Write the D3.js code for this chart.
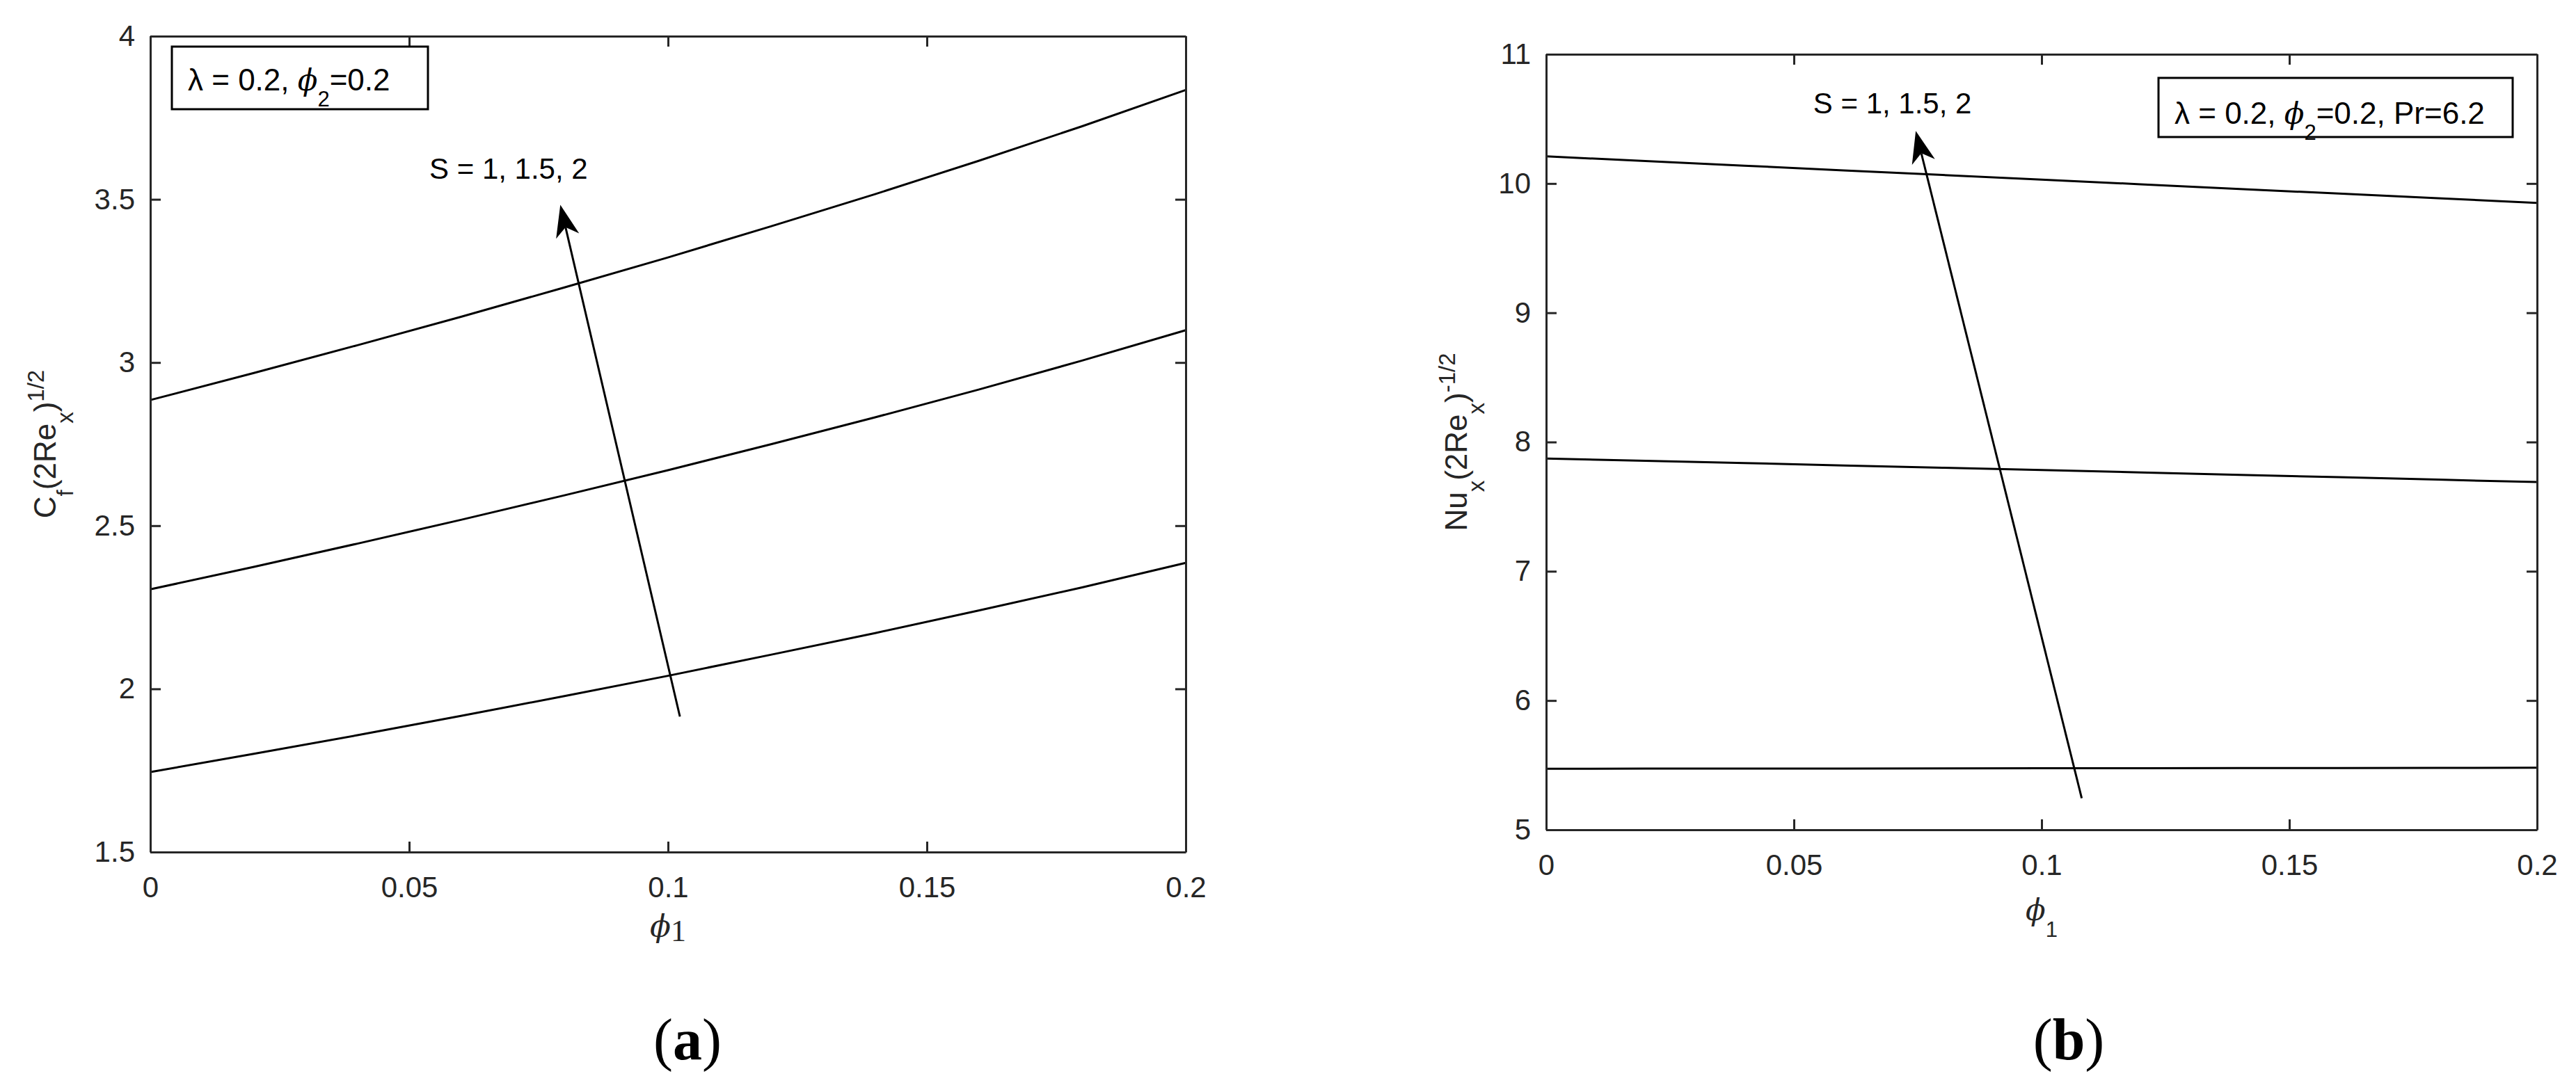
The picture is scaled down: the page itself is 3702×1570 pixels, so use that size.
<!DOCTYPE html>
<html>
<head>
<meta charset="utf-8">
<script src="https://cdn.jsdelivr.net/npm/d3@7"></script>
<style>
  body { margin: 0; background: #fff; }
  svg { display: block; }
</style>
</head>
<body>
<div id="chart"></div>
<script>
// phi_1 sample points (shared by both panels)
var phi1 = [0, 0.02, 0.04, 0.06, 0.08, 0.1, 0.12, 0.14, 0.16, 0.18, 0.2];

// panel (a): skin friction  Cf (2Re_x)^1/2
var cfS1  = [1.745, 1.801, 1.858, 1.917, 1.978, 2.040, 2.105, 2.171, 2.240, 2.311, 2.386];
var cfS15 = [2.305, 2.374, 2.445, 2.518, 2.593, 2.670, 2.750, 2.832, 2.917, 3.006, 3.099];
var cfS2  = [2.885, 2.968, 3.053, 3.140, 3.230, 3.322, 3.418, 3.516, 3.618, 3.724, 3.835];

// panel (b): Nusselt number  Nu_x (2Re_x)^-1/2
var nuS1  = [5.472, 5.473, 5.473, 5.474, 5.475, 5.476, 5.476, 5.477, 5.478, 5.479, 5.480];
var nuS15 = [7.872, 7.855, 7.837, 7.819, 7.801, 7.783, 7.765, 7.746, 7.728, 7.709, 7.690];
var nuS2  = [10.210, 10.174, 10.138, 10.102, 10.066, 10.030, 9.994, 9.958, 9.922, 9.886, 9.850];

// ticks
var xTicks = [0, 0.05, 0.1, 0.15, 0.2];
var xTickLabels = ["0", "0.05", "0.1", "0.15", "0.2"];
var cfTicks = [1.5, 2, 2.5, 3, 3.5, 4];
var cfTickLabels = ["1.5", "2", "2.5", "3", "3.5", "4"];
var nuTicks = [5, 6, 7, 8, 9, 10, 11];
var nuTickLabels = ["5", "6", "7", "8", "9", "10", "11"];

// arrows [tail, head] in data units, and the "S = ..." note position
var cfArrow = [[0.1023, 1.915], [0.0792, 3.483]];
var nuArrow = [[0.1081, 5.244], [0.0746, 10.407]];
var cfNote = [0.0539, 3.564];
var nuNote = [0.0539, 10.541];

var SANS = "'Liberation Sans', Arial, Helvetica, sans-serif";
var SERIF = "'Liberation Serif', 'Times New Roman', serif";
var GREEK = "'DejaVu Serif', serif";
var AXIS_COL = "#262626";

var svg = d3.select("#chart").append("svg")
	.attr("width", 3702)
	.attr("height", 1570);

svg.append("rect").attr("width", 3702).attr("height", 1570).attr("fill", "#fff");

var panels = [
	{
		left: 216, right: 1704, top: 52, bottom: 1225,
		yDomain: [1.5, 4], yTicks: cfTicks, yTickLabels: cfTickLabels,
		series: [cfS1, cfS15, cfS2],
		arrow: cfArrow, note: cfNote,
		legend: { side: "left", dx: 31, dy: 15, w: 368, h: 90, pad: 23, base: 63, extra: "" },
		ylabel: { x: 80, main: "C", sub: "f", sup: "1/2" },
		xlabelTex: true,
		tag: "a", tagX: 988
	},
	{
		left: 2222, right: 3646, top: 78, bottom: 1193,
		yDomain: [5, 11], yTicks: nuTicks, yTickLabels: nuTickLabels,
		series: [nuS1, nuS15, nuS2],
		arrow: nuArrow, note: nuNote,
		legend: { side: "right", dx: 35, dy: 34, w: 509, h: 85, pad: 23, base: 66, extra: ", Pr=6.2" },
		ylabel: { x: 2108, main: "Nu", sub: "x", sup: "-1/2" },
		xlabelTex: false,
		tag: "b", tagX: 2973
	}
];

panels.forEach(function (p) {
	var x = d3.scaleLinear().domain([0, 0.2]).range([p.left, p.right]);
	var y = d3.scaleLinear().domain(p.yDomain).range([p.bottom, p.top]);
	var g = svg.append("g");

	// curves
	var line = d3.line()
		.x(function (d, i) { return x(phi1[i]); })
		.y(function (d) { return y(d); });

	p.series.forEach(function (s) {
		g.append("path")
			.attr("d", line(s))
			.attr("fill", "none")
			.attr("stroke", "#000")
			.attr("stroke-width", 3);
	});

	// axes, matlab style: box on, ticks pointing in
	var ax = [
		{ a: d3.axisBottom(x).tickValues(xTicks).tickFormat(function (d, i) { return xTickLabels[i]; }).tickPadding(35), t: "translate(0," + p.bottom + ")" },
		{ a: d3.axisTop(x).tickValues(xTicks).tickFormat(""), t: "translate(0," + p.top + ")" },
		{ a: d3.axisLeft(y).tickValues(p.yTicks).tickFormat(function (d, i) { return p.yTickLabels[i]; }).tickPadding(22), t: "translate(" + p.left + ",0)" },
		{ a: d3.axisRight(y).tickValues(p.yTicks).tickFormat(""), t: "translate(" + p.right + ",0)" }
	];
	ax.forEach(function (o) {
		var axg = g.append("g")
			.attr("transform", o.t)
			.call(o.a.tickSizeInner(-15).tickSizeOuter(0));
		axg.select(".domain").attr("stroke", AXIS_COL).attr("stroke-width", 3);
		axg.selectAll(".tick line").attr("stroke", AXIS_COL).attr("stroke-width", 3);
		axg.selectAll(".tick text")
			.attr("fill", AXIS_COL)
			.attr("font-family", SANS)
			.attr("font-size", 42);
	});

	// legend box
	var L = p.legend;
	var bx = L.side == "left" ? p.left + L.dx : p.right - L.dx - L.w;
	var by = p.top + L.dy;
	g.append("rect")
		.attr("x", bx).attr("y", by)
		.attr("width", L.w).attr("height", L.h)
		.attr("fill", "#fff")
		.attr("stroke", "#000")
		.attr("stroke-width", 3);
	var lt = g.append("text")
		.attr("x", bx + L.pad).attr("y", by + L.base)
		.attr("font-family", SANS)
		.attr("font-size", 44)
		.attr("fill", "#000");
	lt.append("tspan").text("\u03bb = 0.2, ");
	lt.append("tspan").attr("font-family", GREEK).attr("font-style", "italic").attr("font-size", 42).text("\u03d5");
	lt.append("tspan").attr("font-size", 31).attr("dy", 23).text("2");
	lt.append("tspan").attr("dy", -23).text("=0.2" + L.extra);

	// arrow annotation
	var t0 = [x(p.arrow[0][0]), y(p.arrow[0][1])];
	var t1 = [x(p.arrow[1][0]), y(p.arrow[1][1])];
	var dxv = t1[0] - t0[0], dyv = t1[1] - t0[1];
	var len = Math.sqrt(dxv * dxv + dyv * dyv);
	var ux = dxv / len, uy = dyv / len;
	var nx = -uy, ny = ux;
	var HL = 46, HW = 17;
	var notch = [t1[0] - ux * HL * 0.72, t1[1] - uy * HL * 0.72];
	g.append("line")
		.attr("x1", t0[0]).attr("y1", t0[1])
		.attr("x2", notch[0]).attr("y2", notch[1])
		.attr("stroke", "#000")
		.attr("stroke-width", 3);
	var head = [
		t1,
		[t1[0] - ux * HL + nx * HW, t1[1] - uy * HL + ny * HW],
		notch,
		[t1[0] - ux * HL - nx * HW, t1[1] - uy * HL - ny * HW]
	];
	g.append("path")
		.attr("d", "M" + head.map(function (q) { return q[0] + "," + q[1]; }).join("L") + "Z")
		.attr("fill", "#000");

	g.append("text")
		.attr("x", x(p.note[0])).attr("y", y(p.note[1]))
		.attr("font-family", SANS)
		.attr("font-size", 42)
		.attr("fill", "#000")
		.text("S = 1, 1.5, 2");

	// y label
	var cy = (p.top + p.bottom) / 2;
	var yl = g.append("text")
		.attr("transform", "translate(" + p.ylabel.x + "," + cy + ") rotate(-90)")
		.attr("text-anchor", "middle")
		.attr("font-family", SANS)
		.attr("font-size", 44)
		.attr("fill", AXIS_COL);
	yl.append("tspan").text(p.ylabel.main);
	yl.append("tspan").attr("font-size", 33).attr("dy", 25).text(p.ylabel.sub);
	yl.append("tspan").attr("dy", -25).text("(2Re");
	yl.append("tspan").attr("font-size", 33).attr("dy", 25).text("x");
	yl.append("tspan").attr("dy", -25).text(")");
	yl.append("tspan").attr("font-size", 33).attr("dy", -17).text(p.ylabel.sup);

	// x label
	var cx = (p.left + p.right) / 2;
	var xl = g.append("text")
		.attr("x", cx)
		.attr("text-anchor", "middle")
		.attr("fill", AXIS_COL);
	if (p.xlabelTex) {
		xl.attr("y", p.bottom + 122);
		xl.append("tspan").attr("font-family", GREEK).attr("font-style", "italic").attr("font-size", 44).text("\u03d5");
		xl.append("tspan").attr("font-family", SERIF).attr("font-size", 44).attr("dy", 6).text("1");
	} else {
		xl.attr("y", p.bottom + 130);
		xl.append("tspan").attr("font-family", GREEK).attr("font-style", "italic").attr("font-size", 42).text("\u03d5");
		xl.append("tspan").attr("font-family", SANS).attr("font-size", 31).attr("dy", 24).text("1");
	}

	// panel tag
	var tg = svg.append("text")
		.attr("x", p.tagX).attr("y", 1523)
		.attr("text-anchor", "middle")
		.attr("font-family", SERIF)
		.attr("font-size", 84)
		.attr("fill", "#000");
	tg.append("tspan").text("(");
	tg.append("tspan").attr("font-weight", "bold").text(p.tag);
	tg.append("tspan").text(")");
});
</script>
</body>
</html>
